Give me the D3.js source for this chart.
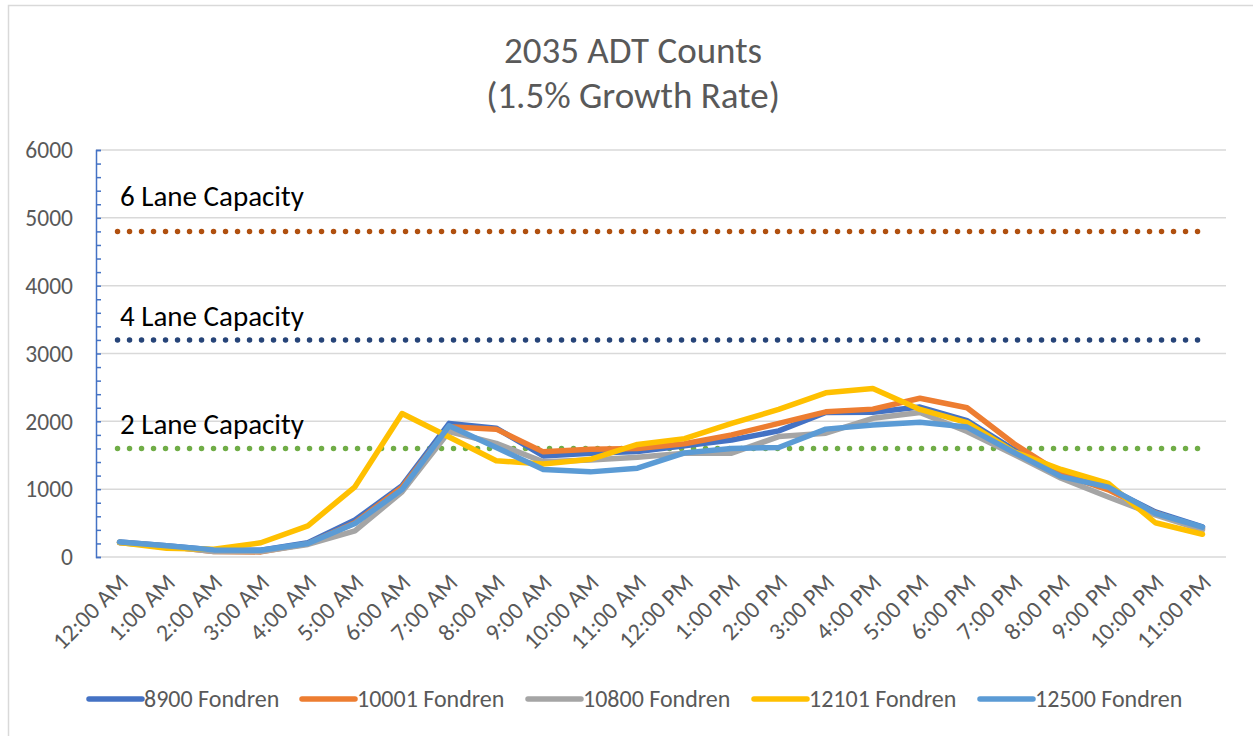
<!DOCTYPE html>
<html>
<head>
<meta charset="utf-8">
<script src="https://cdn.jsdelivr.net/npm/d3@7"></script>
<style>
  html, body { margin: 0; padding: 0; background: #fff; }
  svg text { font-family: Carlito, Calibri, Lato, sans-serif; }
</style>
</head>
<body>
<div id="canvas"></div>
<script>
// 2035 ADT Counts chart, hourly counts for five Fondren locations

const hours = ["12:00 AM", "1:00 AM", "2:00 AM", "3:00 AM", "4:00 AM", "5:00 AM",
  "6:00 AM", "7:00 AM", "8:00 AM", "9:00 AM", "10:00 AM", "11:00 AM",
  "12:00 PM", "1:00 PM", "2:00 PM", "3:00 PM", "4:00 PM", "5:00 PM",
  "6:00 PM", "7:00 PM", "8:00 PM", "9:00 PM", "10:00 PM", "11:00 PM"];

const seriesNames = ["8900 Fondren", "10001 Fondren", "10800 Fondren", "12101 Fondren", "12500 Fondren"];

const fondren8900 = [220, 165, 105, 100, 210, 545, 1050, 1970, 1900, 1490, 1530, 1555,
  1640, 1725, 1860, 2130, 2135, 2210, 2010, 1580, 1210, 1015, 665, 445];
const fondren10001 = [215, 160, 80, 75, 195, 505, 1030, 1920, 1885, 1550, 1590, 1600,
  1670, 1800, 1970, 2140, 2180, 2340, 2200, 1670, 1225, 990, 650, 420];
const fondren10800 = [210, 160, 80, 80, 185, 385, 960, 1850, 1675, 1405, 1430, 1470,
  1530, 1530, 1775, 1825, 2045, 2130, 1850, 1510, 1160, 885, 620, 400];
const fondren12101 = [215, 130, 115, 210, 460, 1035, 2115, 1770, 1420, 1370, 1440, 1660,
  1745, 1970, 2175, 2420, 2485, 2175, 1980, 1550, 1290, 1085, 505, 335];
const fondren12500 = [220, 165, 105, 100, 200, 495, 995, 1935, 1615, 1290, 1255, 1310,
  1535, 1600, 1615, 1885, 1945, 1985, 1915, 1540, 1185, 1030, 645, 440];

const capacityLabels = ["6 Lane Capacity", "4 Lane Capacity", "2 Lane Capacity"];
const capacityValues = [4800, 3200, 1600];

const yTicks = [0, 1000, 2000, 3000, 4000, 5000, 6000];

const width = 1253, height = 736;
const colors = ["#4472C4", "#ED7D31", "#A5A5A5", "#FFC000", "#5B9BD5"];
const capColors = ["#B0500F", "#264478", "#70AD47"];
const allSeries = [fondren8900, fondren10001, fondren10800, fondren12101, fondren12500];

const svg = d3.select("#canvas").append("svg")
  .attr("width", width).attr("height", height);

// chart area border (only left/top show in the crop)
svg.append("rect").attr("x", 8.5).attr("y", 5.5)
  .attr("width", 1300).attr("height", 800)
  .attr("fill", "#fff").attr("stroke", "#D9D9D9").attr("stroke-width", 1.5);

const x = d3.scalePoint().domain(hours).range([96, 1226]).padding(0.5);
const y = d3.scaleLinear().domain([0, 6000]).range([557, 150]);

// title
svg.append("text").attr("x", 633).attr("y", 63)
  .attr("text-anchor", "middle").attr("font-size", 37).attr("fill", "#595959")
  .text("2035 ADT Counts");
svg.append("text").attr("x", 633).attr("y", 108)
  .attr("text-anchor", "middle").attr("font-size", 37).attr("fill", "#595959")
  .text("(1.5% Growth Rate)");

// gridlines
svg.append("g").selectAll("line").data(yTicks).join("line")
  .attr("x1", 96).attr("x2", 1226)
  .attr("y1", d => y(d)).attr("y2", d => y(d))
  .attr("stroke", "#D9D9D9").attr("stroke-width", 1.5);

// y axis: blue line with small ticks every 200
const yAxis = svg.append("g").attr("transform", "translate(96,0)")
  .call(d3.axisRight(y).tickValues(d3.range(0, 6001, 200)).tickSize(5).tickFormat(""));
yAxis.select(".domain").attr("stroke", "#4472C4").attr("stroke-width", 1.5);
yAxis.selectAll(".tick line").attr("stroke", "#4472C4").attr("stroke-width", 1.5);

// y labels
svg.append("g").selectAll("text").data(yTicks).join("text")
  .attr("x", 73).attr("y", d => y(d)).attr("dy", "0.35em")
  .attr("text-anchor", "end").attr("font-size", 23.5).attr("fill", "#595959")
  .text(d => d);

// x labels, rotated
svg.append("g").selectAll("text").data(hours).join("text")
  .attr("transform", d => `translate(${x(d) + 4},${578}) rotate(-45)`)
  .attr("text-anchor", "end").attr("dy", "0.35em")
  .attr("font-size", 24).attr("fill", "#595959")
  .text(d => d);

// capacity lines (round dots)
const first = hours[0], last = hours[hours.length - 1];
capacityValues.forEach((v, i) => {
  svg.append("line")
    .attr("x1", x(first) - 2).attr("x2", x(last))
    .attr("y1", y(v)).attr("y2", y(v))
    .attr("stroke", capColors[i]).attr("stroke-width", 5.5)
    .attr("stroke-linecap", "round").attr("stroke-dasharray", "0,12");
});

// capacity labels
const labelOffsets = [-25, -14, -14];
capacityLabels.forEach((t, i) => {
  svg.append("text")
    .attr("x", 120).attr("y", y(capacityValues[i]) + labelOffsets[i])
    .attr("font-size", 29).attr("fill", "#000")
    .text(t);
});

// series lines
const line = d3.line().x((d, i) => x(hours[i])).y(d => y(d));
allSeries.forEach((s, i) => {
  svg.append("path").datum(s)
    .attr("d", line)
    .attr("fill", "none").attr("stroke", colors[i]).attr("stroke-width", 5.5)
    .attr("stroke-linejoin", "round").attr("stroke-linecap", "round");
});

// legend
const legendX = [89, 302, 528, 754, 980];
seriesNames.forEach((n, i) => {
  svg.append("line")
    .attr("x1", legendX[i]).attr("x2", legendX[i] + 53)
    .attr("y1", 699).attr("y2", 699)
    .attr("stroke", colors[i]).attr("stroke-width", 5.5).attr("stroke-linecap", "round");
  svg.append("text")
    .attr("x", legendX[i] + 55).attr("y", 699).attr("dy", "0.35em")
    .attr("font-size", 24).attr("fill", "#595959")
    .text(n);
});
</script>
</body>
</html>
